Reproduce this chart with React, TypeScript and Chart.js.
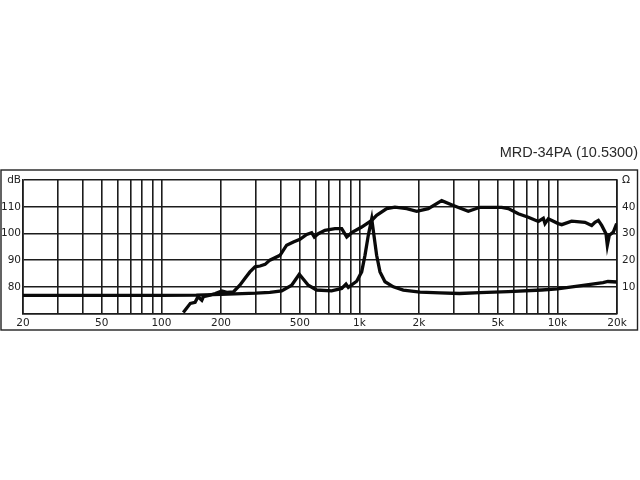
import React, { useEffect, useRef } from "react";
import { Chart, registerables } from "chart.js";

Chart.register(...registerables);

const TITLE = "MRD-34PA (10.5300)";

const gridFreqs = [
  20, 30, 40, 50, 60, 70, 80, 90, 100,
  200, 300, 400, 500, 600, 700, 800, 900, 1000,
  2000, 3000, 4000, 5000, 6000, 7000, 8000, 9000, 10000, 20000,
];
const freqLabels: Record<number, string> = {
  20: "20", 50: "50", 100: "100", 200: "200", 500: "500",
  1000: "1k", 2000: "2k", 5000: "5k", 10000: "10k", 20000: "20k",
};
const dbLabels: Record<number, string> = { 120: "dB", 110: "110", 100: "100", 90: "90", 80: "80" };
const ohmLabels: Record<number, string> = { 50: "Ω", 40: "40", 30: "30", 20: "20", 10: "10" };

const splFreq = [
  129, 140, 148, 153, 160, 163, 176, 187, 202, 214, 231, 249, 264, 280, 297, 315, 334, 353,
  397, 429, 464, 501, 542, 574, 592, 620, 670, 753, 814, 863, 914, 1027, 1154, 1222, 1374,
  1512, 1734, 1947, 2229, 2604, 2980, 3548, 4064, 5232, 5650, 6350, 7130, 8012, 8490, 8656,
  8996, 10100, 10516, 11800, 13780, 14900, 15480, 16100, 16740, 17600, 17870, 18280, 19160, 19920,
];
const splDb = [
  70.4, 73.8, 74.2, 76.3, 75.0, 76.3, 76.9, 77.5, 78.4, 77.9, 78.1, 80.6, 83.1, 85.6, 87.5, 87.8, 88.4, 90.0,
  91.8, 95.6, 96.8, 97.8, 99.6, 100.3, 98.7, 99.9, 101.2, 101.8, 101.8, 98.7, 100.3, 102.4, 104.9, 106.8, 109.3,
  109.9, 109.3, 108.3, 109.3, 112.3, 110.5, 108.3, 109.8, 109.8, 109.3, 107.4, 106.1, 104.5, 105.7, 103.7,
  105.5, 103.7, 103.3, 104.6, 104.2, 103.0, 104.2, 104.9, 103.0, 99.9, 95.6, 99.3, 100.5, 103.7,
];

const impFreq = [
  20, 100, 150, 200, 300, 353, 405, 455, 497, 552, 608, 724, 814, 856, 879, 969, 1027, 1067,
  1109, 1154, 1222, 1271, 1347, 1484, 1666, 2024, 2553, 3200, 4064, 5650, 8335, 10000, 13780,
  16990, 18000, 19920,
];
const impOhm = [
  6.8, 6.8, 6.9, 7.2, 7.6, 7.9, 8.5, 10.6, 14.7, 10.6, 8.8, 8.5, 9.4, 11.0, 9.8, 12.1, 15.6, 21.8,
  29.3, 35.5, 21.8, 15.6, 11.9, 10.0, 8.8, 8.0, 7.7, 7.5, 7.8, 8.2, 8.8, 9.2, 10.6,
  11.6, 12.0, 11.8,
];

const frameplugin = {
  id: "frame",
  beforeDraw(chart: any) {
    const ctx = chart.ctx;
    ctx.save();
    ctx.fillStyle = "#ffffff";
    ctx.fillRect(0, 0, chart.width, chart.height);
    ctx.strokeStyle = "#222222";
    ctx.lineWidth = 1.4;
    ctx.strokeRect(1, 170, 636.5, 160);
    ctx.restore();
  },
};

export default function App() {
  const ref = useRef<HTMLCanvasElement | null>(null);

  useEffect(() => {
    if (!ref.current) return;
    const tickFont = { family: "'DejaVu Sans', Verdana, sans-serif", size: 10.5 };
    const gridColor = "#1c1c1c";
    const chart = new Chart(ref.current, {
      type: "line",
      data: {
        datasets: [
          {
            label: "SPL",
            data: splFreq.map((f, i) => ({ x: f, y: splDb[i] })),
            yAxisID: "y",
            borderColor: "#0a0a0a",
            borderWidth: 3.3,
            pointRadius: 0,
            tension: 0,
            fill: false,
          },
          {
            label: "Impedance",
            data: impFreq.map((f, i) => ({ x: f, y: impOhm[i] })),
            yAxisID: "y2",
            borderColor: "#0a0a0a",
            borderWidth: 3.3,
            pointRadius: 0,
            tension: 0,
            fill: false,
          },
        ],
      },
      options: {
        responsive: false,
        animation: false,
        layout: { padding: { left: 0, right: 2, top: 0, bottom: 0 } },
        plugins: {
          legend: { display: false },
          tooltip: { enabled: false },
          title: {
            display: true,
            text: TITLE,
            align: "end",
            color: "#2a2a2a",
            font: { family: "'Liberation Sans', Arial, sans-serif", size: 14.5, weight: "normal" },
            padding: { top: 144.6, bottom: 18.1 },
          },
        },
        scales: {
          x: {
            type: "logarithmic",
            min: 20,
            max: 20000,
            afterBuildTicks: (scale: any) => {
              scale.ticks = gridFreqs.map((v) => ({ value: v }));
            },
            afterFit: (scale: any) => {
              scale.height = 166.5;
            },
            ticks: {
              autoSkip: false,
              maxRotation: 0,
              padding: 3,
              color: "#222222",
              font: tickFont,
              callback: (v: any) => freqLabels[Number(v)] ?? "",
            },
            grid: { color: gridColor, lineWidth: 1.6, drawTicks: false },
            border: { display: true, color: gridColor, width: 1.6 },
          },
          y: {
            position: "left",
            min: 70,
            max: 120,
            afterBuildTicks: (scale: any) => {
              const t = [];
              for (let v = 70; v <= 120; v += 5) t.push({ value: v });
              scale.ticks = t;
            },
            afterFit: (scale: any) => {
              scale.width = 23;
            },
            ticks: {
              padding: 2,
              color: "#222222",
              font: tickFont,
              callback: (v: any) => dbLabels[Number(v)] ?? "",
            },
            grid: { color: gridColor, lineWidth: 1.6, drawTicks: false },
            border: { display: true, color: gridColor, width: 1.6 },
          },
          y2: {
            position: "right",
            min: 0,
            max: 50,
            afterBuildTicks: (scale: any) => {
              const t = [];
              for (let v = 0; v <= 50; v += 5) t.push({ value: v });
              scale.ticks = t;
            },
            afterFit: (scale: any) => {
              scale.width = 21;
            },
            ticks: {
              padding: 5,
              color: "#222222",
              font: tickFont,
              callback: (v: any) => ohmLabels[Number(v)] ?? "",
            },
            grid: { display: false, drawTicks: false },
            border: { display: true, color: gridColor, width: 1.6 },
          },
        },
      } as any,
      plugins: [frameplugin],
    });
    return () => chart.destroy();
  }, []);

  return (
    <div style={{ position: "absolute", left: 0, top: 0, width: 640, height: 480, background: "#fff" }}>
      <canvas ref={ref} width={640} height={480} style={{ display: "block" }} />
    </div>
  );
}
